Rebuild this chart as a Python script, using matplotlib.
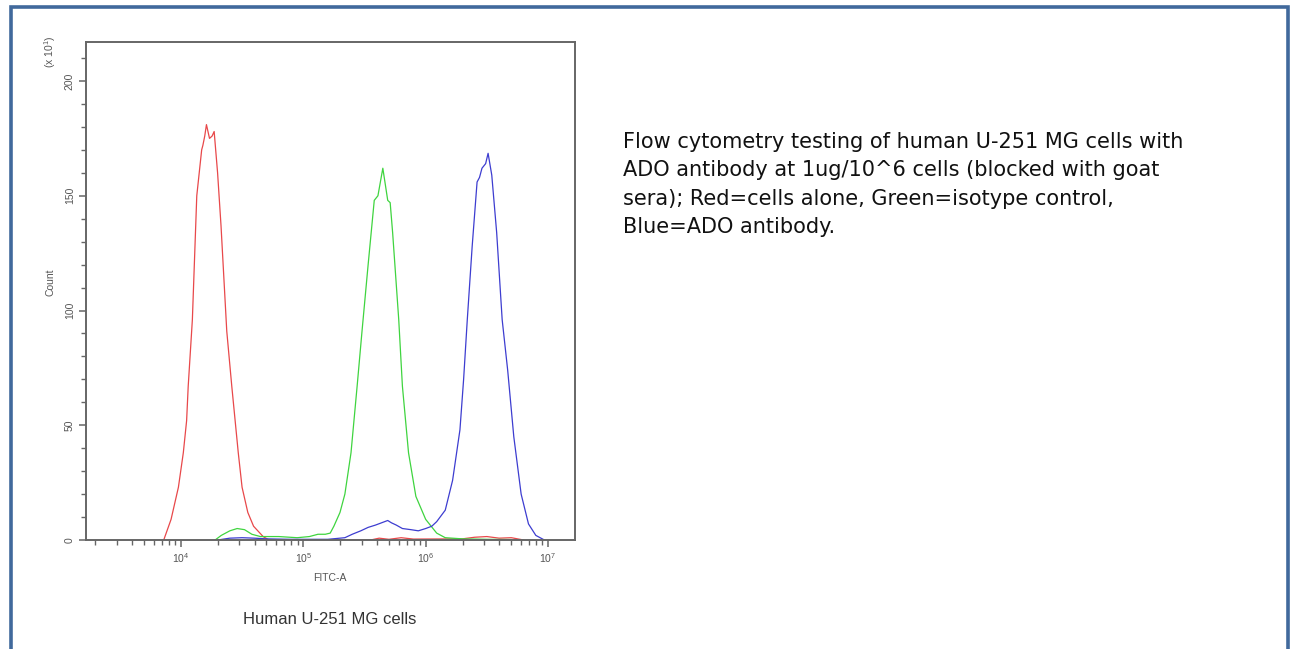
import numpy as np
import matplotlib.pyplot as plt
from matplotlib.patches import Rectangle
from matplotlib.ticker import LogLocator, MultipleLocator, NullFormatter

# histogram traces: log10(FITC-A) and Count (x10^1)
red_log = [3.86, 3.87, 3.92, 3.98, 4.02, 4.047, 4.06, 4.094, 4.13, 4.17, 4.18, 4.195,
           4.209, 4.234, 4.255, 4.272, 4.30, 4.328, 4.375, 4.416, 4.469, 4.50, 4.547,
           4.594, 4.672, 4.72, 5.55, 5.62, 5.70, 5.80, 5.90, 6.30, 6.40, 6.50, 6.60,
           6.70, 6.80]
red_cnt = [0, 1.5, 9, 23, 38, 52, 67, 96, 150, 170, 172, 176,
           181, 175, 176, 178, 160, 137, 91, 67, 38, 23, 12,
           6, 1.5, 0, 0, 0.8, 0.3, 1.0, 0.4, 0.5, 1.2, 1.5, 0.8,
           1.0, 0]

green_log = [4.28, 4.33, 4.40, 4.46, 4.52, 4.58, 4.65, 4.80, 4.95, 5.05, 5.12, 5.18,
             5.22, 5.25, 5.30, 5.34, 5.39, 5.44, 5.48, 5.53, 5.58, 5.61, 5.65, 5.67,
             5.69, 5.71, 5.73, 5.78, 5.81, 5.86, 5.92, 6.00, 6.09, 6.16, 6.30, 6.50,
             6.70]
green_cnt = [0, 2, 4, 5, 4.5, 2.5, 1.5, 1.5, 1, 1.5, 2.5, 2.5,
             3, 6, 12, 20, 38, 67, 91, 120, 148, 150, 162, 155,
             148, 147, 134, 96, 67, 38, 19, 9, 3, 1, 0.5, 0.3,
             0.2]

blue_log = [4.30, 4.40, 4.50, 4.60, 4.70, 4.90, 5.20, 5.30, 5.34, 5.40, 5.47, 5.53,
            5.59, 5.64, 5.69, 5.72, 5.76, 5.81, 5.88, 5.94, 6.00, 6.05, 6.09, 6.16,
            6.22, 6.28, 6.31, 6.34, 6.38, 6.42, 6.44, 6.46, 6.49, 6.51, 6.54, 6.58,
            6.625, 6.67, 6.72, 6.78, 6.84, 6.90, 6.97]
blue_cnt = [0, 0.8, 1, 0.8, 0.5, 0.3, 0.3, 0.8, 1, 2.5, 4, 5.5,
            6.5, 7.5, 8.5, 7.5, 6.5, 5, 4.5, 4, 5, 6, 8, 13,
            26, 48, 70, 96, 128, 156, 158, 162, 164, 168.5, 159, 134,
            96, 74, 45, 20, 7, 2, 0]

caption = ("Flow cytometry testing of human U-251 MG cells with\n"
           "ADO antibody at 1ug/10^6 cells (blocked with goat\n"
           "sera); Red=cells alone, Green=isotype control,\n"
           "Blue=ADO antibody.")

W, H = 1298, 649
plt.rcParams["font.family"] = "Liberation Sans"
plt.rcParams["mathtext.default"] = "regular"

fig = plt.figure(figsize=(W / 100, H / 100), dpi=100)

# blue frame around the whole panel (bottom edge runs off the image)
fig.patches.append(Rectangle((11 / W, -0.05), (1288 - 11) / W, 1.05 - 7 / H,
                             transform=fig.transFigure, fill=False,
                             edgecolor="#41699c", lw=2.6))

ax = fig.add_axes([86 / W, 1 - 540 / H, (575 - 86) / W, (540 - 42) / H])
ax.plot(10 ** np.array(red_log), red_cnt, color="#e8484a", lw=0.9)
ax.plot(10 ** np.array(green_log), green_cnt, color="#3fd43f", lw=0.9)
ax.plot(10 ** np.array(blue_log), blue_cnt, color="#3d3dd0", lw=0.9)

ax.set_xscale("log")
ax.set_xlim(10 ** 3.225, 10 ** 7.22)
ax.set_ylim(0, 217)
ax.xaxis.set_major_locator(LogLocator(base=10, numticks=10))
ax.xaxis.set_minor_locator(LogLocator(base=10, subs=np.arange(2, 10), numticks=20))
ax.xaxis.set_minor_formatter(NullFormatter())
ax.yaxis.set_major_locator(MultipleLocator(50))
ax.yaxis.set_minor_locator(MultipleLocator(10))

for s in ax.spines.values():
    s.set_color("#666666")
    s.set_linewidth(1.4)
ax.tick_params(which="both", direction="out", colors="#666666", labelcolor="#555555",
               labelsize=7.5)
ax.tick_params(which="major", length=5, width=1.1)
ax.tick_params(which="minor", length=3.5, width=1.0)
ax.tick_params(axis="x", pad=3)
ax.tick_params(axis="y", pad=3)
for lab in ax.get_yticklabels():
    lab.set_rotation(90)
    lab.set_va("center")

fig.text(330 / W, 1 - 578 / H, "FITC-A", ha="center", va="center",
         fontsize=7.5, color="#555555")
fig.text(51 / W, 1 - 282 / H, "Count", ha="center", va="center", rotation=90,
         fontsize=7.5, color="#555555")
fig.text(50 / W, 1 - 52 / H, r"(x 10$^1$)", ha="center", va="center", rotation=90,
         fontsize=7.5, color="#555555")
fig.text(330 / W, 1 - 620 / H, "Human U-251 MG cells", ha="center", va="center",
         fontsize=12, color="#333333")

fig.text(623 / W, 1 - 132 / H, caption, ha="left", va="top", fontsize=15,
         family="DejaVu Sans", color="#111111", linespacing=1.53)

fig.savefig("out.png", dpi=100)
